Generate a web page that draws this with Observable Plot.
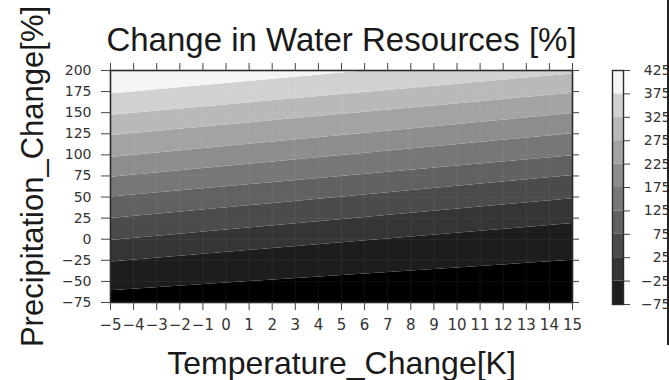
<!DOCTYPE html>
<html>
<head>
<meta charset="utf-8">
<script src="https://cdn.jsdelivr.net/npm/d3@7"></script>
<script src="https://cdn.jsdelivr.net/npm/@observablehq/plot@0.6"></script>
<style>
  body { margin: 0; background: #fff; }
  #chart { position: relative; width: 669px; height: 380px; overflow: hidden; font-family: "Liberation Sans", Arial, sans-serif; }
  #chart > svg { position: absolute; top: 0; }
  #edge { position: absolute; left: 667px; top: 0; width: 2px; height: 345px; background: #222; }
</style>
</head>
<body>
<div id="chart"><div id="edge"></div></div>
<script>
// Axis extents: temperature change (K) and precipitation change (%)
const tempRange = [-5, 15];
const precipRange = [-75, 200];
const xTicks = [-5, -4, -3, -2, -1, 0, 1, 2, 3, 4, 5, 6, 7, 8, 9, 10, 11, 12, 13, 14, 15];
const yTicks = [-75, -50, -25, 0, 25, 50, 75, 100, 125, 150, 175, 200];

// Contour levels of the change in water resources (%)
const levels = [-75, -25, 25, 75, 125, 175, 225, 275, 325, 375, 425];
// Precipitation change (%) where each level's contour meets T = -5 K and T = 15 K
const boundaryAtTmin = [-61, -27, -1.5, 24.5, 50, 73.5, 97, 123, 147, 172];
const boundaryAtTmax = [-25, 18.5, 48, 75.5, 99, 125, 149, 173, 196, 222];

// Grey ramp: band below -75, then one shade per level interval up to 425
const shades = ["#000000", "#1d1d1d", "#353535", "#4b4b4b", "#616161", "#777777",
                "#8d8d8d", "#a3a3a3", "#b9b9b9", "#d1d1d1", "#f5f5f5"];

const font = `"Liberation Sans", Arial, sans-serif`;
const tickFont = `"DejaVu Sans", sans-serif`;

// Filled bands between consecutive contours, sampled at both temperature ends
const bandRows = [];
for (let i = 0; i < shades.length; i++) {
  [[tempRange[0], boundaryAtTmin], [tempRange[1], boundaryAtTmax]].forEach(([T, b]) => {
    const lo = i === 0 ? precipRange[0] : b[i - 1];
    const hi = i === shades.length - 1 ? Math.max(precipRange[1], lo) : b[i];
    bandRows.push({T, lo, hi, band: i});
  });
}

const main = Plot.plot({
  width: 669,
  height: 380,
  marginTop: 70,
  marginLeft: 110,
  marginRight: 97,
  marginBottom: 78,
  style: {fontFamily: font, background: "transparent", color: "#2b2b2b", overflow: "visible"},
  x: {domain: tempRange},
  y: {domain: precipRange},
  color: {type: "ordinal", domain: shades.map((_, i) => i), range: shades},
  marks: [
    Plot.areaY(bandRows, {x: "T", y1: "lo", y2: "hi", z: "band", fill: "band", clip: true}),
    Plot.gridX(xTicks, {stroke: "#fff", strokeOpacity: 0.1, strokeWidth: 0.6}),
    Plot.gridY(yTicks, {stroke: "#fff", strokeOpacity: 0.1, strokeWidth: 0.6}),
    Plot.frame({stroke: "#2b2b2b", strokeWidth: 1.6}),
    Plot.axisX(xTicks, {anchor: "bottom", tickSize: 8, tickPadding: 9, fontSize: 15, fontFamily: tickFont, label: null, stroke: "#444", fill: "#333"}),
    Plot.axisX(xTicks, {anchor: "top", tickSize: 8, tickFormat: () => "", label: null, stroke: "#444"}),
    Plot.axisY(yTicks, {anchor: "left", tickSize: 9, tickPadding: 10, fontSize: 14, fontFamily: tickFont, label: null, stroke: "#444", fill: "#333"}),
    Plot.axisY(yTicks, {anchor: "right", tickSize: 6, tickFormat: () => "", label: null, stroke: "#444"}),
    Plot.text(["Change in Water Resources [%]"], {
      frameAnchor: "top", lineAnchor: "bottom", dy: -20, fontSize: 33, fill: "#1a1a1a"
    }),
    Plot.text(["Temperature_Change[K]"], {
      frameAnchor: "bottom", lineAnchor: "bottom", dy: 71, fontSize: 32, fill: "#1a1a1a"
    }),
    Plot.text(["Precipitation_Change[%]"], {
      frameAnchor: "left", textAnchor: "middle", lineAnchor: "bottom", rotate: -90,
      dx: -68, dy: -10, fontSize: 31, fill: "#1a1a1a"
    })
  ]
});
main.style.left = "0px";

// Colour bar: one cell per level interval, labelled at the level boundaries
const barCells = levels.slice(0, -1).map((v, i) => ({y1: v, y2: levels[i + 1], band: i + 1}));
const bar = Plot.plot({
  width: 69,
  height: 380,
  marginTop: 70,
  marginBottom: 76,
  marginLeft: 12,
  marginRight: 46,
  style: {fontFamily: font, background: "transparent", color: "#2b2b2b", overflow: "visible"},
  x: {domain: [0, 1], axis: null},
  y: {domain: [levels[0], levels[levels.length - 1]]},
  color: {type: "ordinal", domain: shades.map((_, i) => i), range: shades},
  marks: [
    Plot.rect(barCells, {x1: 0, x2: 1, y1: "y1", y2: "y2", fill: "band"}),
    Plot.frame({stroke: "#2b2b2b", strokeWidth: 1.4}),
    Plot.axisY(levels, {anchor: "right", tickSize: 6, tickPadding: 41, textAnchor: "end", fontSize: 14, fontFamily: tickFont, label: null, stroke: "#444", fill: "#333"})
  ]
});
bar.style.left = "600px";

const chart = document.getElementById("chart");
chart.insertBefore(main, chart.firstChild);
chart.insertBefore(bar, chart.firstChild.nextSibling);
</script>
</body>
</html>
